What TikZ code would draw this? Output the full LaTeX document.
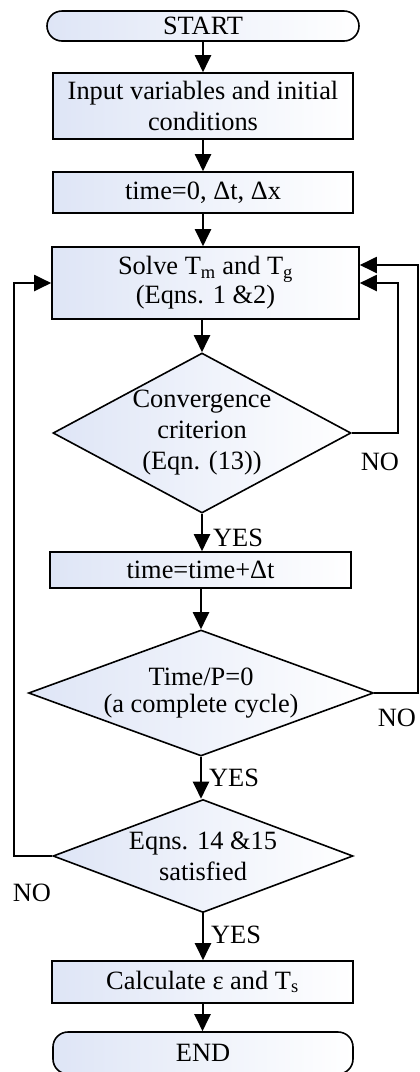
\documentclass[tikz,border=0pt]{standalone}
\usepackage{fontspec}
\usetikzlibrary{shapes.geometric,arrows.meta}
\newfontfamily\flowfont{Liberation Serif}
\newcommand\flowsize{\fontsize{26.4}{31}\selectfont}
\definecolor{boxblue}{RGB}{222,229,246}

\tikzset{
  flowbox/.style={draw, line width=1.6pt, left color=boxblue, right color=white,
    minimum width=300pt, inner sep=0pt, align=center, font=\flowfont\flowsize},
  termbox/.style={flowbox, rounded corners=15pt},
  decision/.style={draw, diamond, line width=1.6pt, left color=boxblue, right color=white,
    inner sep=0pt},
  flowtext/.style={align=center, inner sep=0pt, font=\flowfont\flowsize},
  flowarrow/.style={line width=2pt, -{Triangle[width=16pt,length=17pt]}},
}

\begin{document}
\begin{tikzpicture}[x=1pt,y=-1pt]
      \useasboundingbox (0,0) rectangle (420,1072);
      % Terminals and process boxes
      \node[termbox, minimum width=312pt, minimum height=30pt] (start) at (203,26) {START};
      \node[flowbox, minimum height=66pt] (input) at (203,106) {Input variables and initial\\conditions};
      \node[flowbox, minimum height=41pt] (init) at (203,192.5) {time=0, Δt, Δx};
      \node[flowbox, minimum width=307pt, minimum height=72pt] (solve) at (205.5,283)
        {Solve T\textsubscript{m} and T\textsubscript{g}\\[-2pt](Eqns. 1 \&2)};
      % Convergence check
      \node[decision, minimum width=298pt, minimum height=160pt] (conv) at (202,433) {};
      \node[flowtext] (convtext) at (conv) {Convergence\\criterion\\(Eqn. (13))};
      \node[flowbox, minimum width=301pt, minimum height=36pt] (step) at (200.5,570) {time=time+Δt};
      % Cycle check
      \node[decision, minimum width=345pt, minimum height=126pt] (cycle) at (201,693) {};
      \node[flowtext] (cycletext) at (cycle) {Time/P=0\\[-4pt](a complete cycle)};
      % Periodic state check
      \node[decision, minimum width=300pt, minimum height=113pt] (steady) at (203,856) {};
      \node[flowtext] (steadytext) at (steady) {Eqns. 14 \&15\\satisfied};
      \node[flowbox, minimum width=301pt, minimum height=42pt] (calc) at (202.5,982) {Calculate ε and T\textsubscript{s}};
      \node[termbox, minimum height=42pt] (end) at (203,1053) {END};
      % Main flow
      \draw[flowarrow] (start.south) -- (start.south |- input.north);
      \draw[flowarrow] (input.south) -- (input.south |- init.north);
      \draw[flowarrow] (init.south) -- (init.south |- solve.north);
      \draw[flowarrow] (solve.south -| conv.north) -- (conv.north);
      \draw[flowarrow] (conv.south) -- (conv.south |- step.north);
      \draw[flowarrow] (step.south -| cycle.north) -- (cycle.north);
      \draw[flowarrow] (cycle.south) -- (cycle.south |- steady.north);
      \draw[flowarrow] (steady.south) -- (steady.south |- calc.north);
      \draw[flowarrow] (calc.south) -- (calc.south |- end.north);
      % Loops back to the solver
      \coordinate (convright) at (398,380);
      \coordinate (cycleright) at (418,600);
      \coordinate (steadyleft) at (14,700);
      \draw[flowarrow] (conv.east) -| (convright) |- (solve.east);
      \draw[flowarrow] (cycle.east) -| (cycleright) |- ([yshift=18pt]solve.east);
      \draw[flowarrow] (steady.west) -| (steadyleft) |- (solve.west);
      % Branch labels
      \node[flowtext] (convno) at (380,462) {NO};
      \node[flowtext] (convyes) at (238,538) {YES};
      \node[flowtext] (cycleno) at (397,718) {NO};
      \node[flowtext] (cycleyes) at (234,778) {YES};
      \node[flowtext] (steadyno) at (32,893) {NO};
      \node[flowtext] (steadyyes) at (236,935) {YES};
\end{tikzpicture}
\end{document}
